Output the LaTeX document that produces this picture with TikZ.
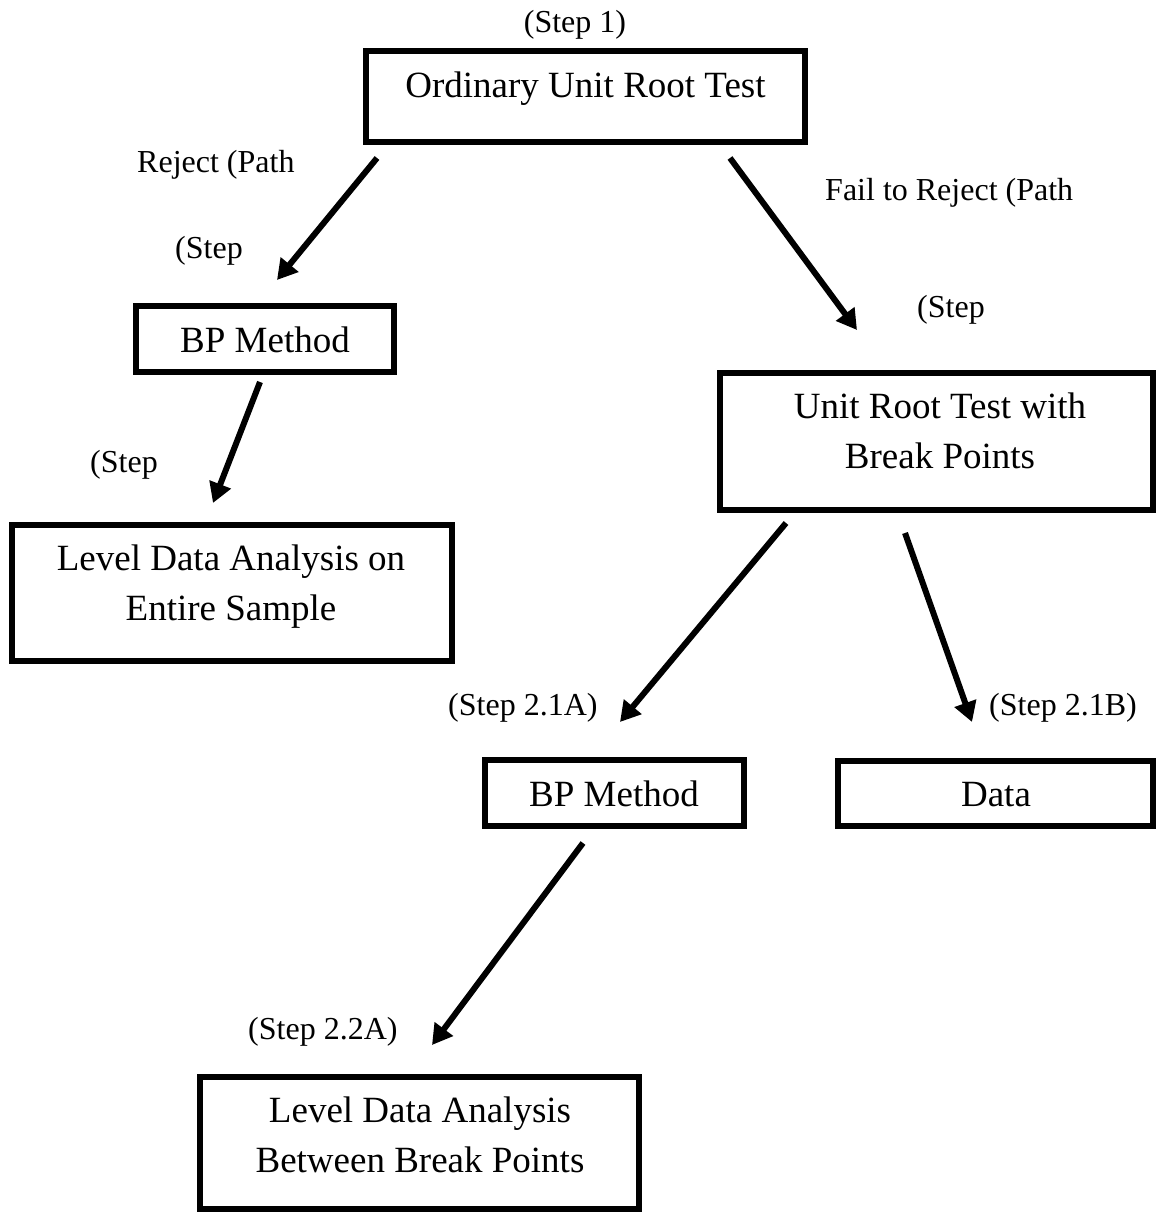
\documentclass[tikz,border=0pt]{standalone}
\usepackage{fontspec}
\setmainfont{Liberation Serif}
\usetikzlibrary{arrows.meta}
\begin{document}
\begin{tikzpicture}[x=1pt,y=-1pt,
  box/.style={draw, line width=6pt, rectangle, inner sep=0pt},
  big/.style={font=\fontsize{37}{50}\selectfont, inner sep=0pt, align=center, anchor=base},
  lab/.style={font=\fontsize{32}{38}\selectfont, inner sep=0pt, anchor=base west},
  flow/.style={line width=6pt, -{Triangle[length=20pt,width=22pt]}}]
\useasboundingbox (0,0) rectangle (1158,1213);

% boxes
\node[box, minimum width=439pt, minimum height=91pt]  (b1) at (585.5,96.5) {};
\node[box, minimum width=258pt, minimum height=66pt]  (b2) at (265,339) {};
\node[box, minimum width=433pt, minimum height=137pt] (b3) at (936.5,441.5) {};
\node[box, minimum width=440pt, minimum height=136pt] (b4) at (232,593) {};
\node[box, minimum width=259pt, minimum height=66pt]  (b5) at (614.5,793) {};
\node[box, minimum width=315pt, minimum height=65pt]  (b6) at (995.5,793.5) {};
\node[box, minimum width=439pt, minimum height=132pt] (b7) at (419.5,1143) {};

% box texts (multi-line nodes: base = last line)
\node[big] (t1) at (585.5,97) {Ordinary Unit Root Test};
\node[big] (t2) at (265,352) {BP Method};
\node[big] (t3) at (940,468) {Unit Root Test with\\Break Points};
\node[big] (t4) at (231,620) {Level Data Analysis on\\Entire Sample};
\node[big] (t5) at (614,806) {BP Method};
\node[big] (t6) at (996,806) {Data};
\node[big] (t7) at (420,1172) {Level Data Analysis\\Between Break Points};

% labels
\node[lab, anchor=base] (s1) at (575,32) {(Step 1)};
\node[lab] (l1) at (137,172) {Reject (Path};
\node[lab] (l2) at (175,258) {(Step};
\node[lab] (l3) at (825,200) {Fail to Reject (Path};
\node[lab] (l4) at (917,317) {(Step};
\node[lab] (l5) at (90,472) {(Step};
\node[lab] (l6) at (448,715) {(Step 2.1A)};
\node[lab] (l7) at (989,715) {(Step 2.1B)};
\node[lab] (l8) at (248,1039) {(Step 2.2A)};

% arrow end points
\coordinate (a1s) at (377,158);  \coordinate (a1e) at (277,280);
\coordinate (a2s) at (730,158);  \coordinate (a2e) at (857,330);
\coordinate (a3s) at (260,382);  \coordinate (a3e) at (213,503);
\coordinate (a4s) at (786,523);  \coordinate (a4e) at (620,722);
\coordinate (a5s) at (905,533);  \coordinate (a5e) at (972,722);
\coordinate (a6s) at (583,843);  \coordinate (a6e) at (432,1045);

\draw[flow] (a1s) -- (a1e);
\draw[flow] (a2s) -- (a2e);
\draw[flow] (a3s) -- (a3e);
\draw[flow] (a4s) -- (a4e);
\draw[flow] (a5s) -- (a5e);
\draw[flow] (a6s) -- (a6e);
\end{tikzpicture}
\end{document}
